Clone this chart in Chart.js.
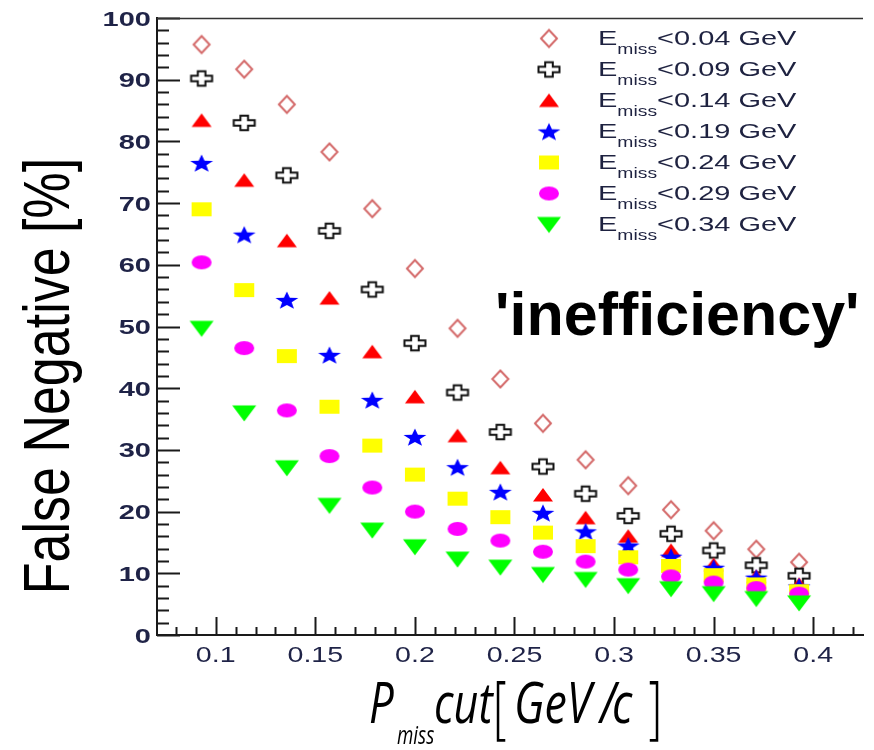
<!DOCTYPE html>
<html>
<head>
<meta charset="utf-8">
<script src="https://cdn.jsdelivr.net/npm/chart.js@4"></script>
<style>
  html, body { margin: 0; padding: 0; background: #fff; }
  #wrap { width: 874px; height: 750px; }
</style>
</head>
<body>
<div id="wrap"><canvas id="c" width="874" height="750"></canvas></div>
<script>
// P_miss cut values (GeV/c)
const pmissCut = [0.0929, 0.1143, 0.1357, 0.1571, 0.1786, 0.2, 0.2214, 0.2429, 0.2643, 0.2857, 0.3071, 0.3286, 0.35, 0.3714, 0.3929];

// False negative rate [%] for each E_miss cut
const emiss004 = [95.7, 91.7, 86.0, 78.3, 69.1, 59.4, 49.7, 41.5, 34.3, 28.4, 24.2, 20.3, 16.9, 13.9, 11.8];
const emiss009 = [90.2, 83.0, 74.5, 65.5, 56.0, 47.3, 39.3, 32.9, 27.3, 22.9, 19.3, 16.4, 13.7, 11.3, 9.6];
const emiss014 = [83.4, 73.7, 63.9, 54.6, 45.9, 38.6, 32.3, 27.1, 22.7, 19.0, 16.0, 13.7, 11.4, 9.5, 8.2];
const emiss019 = [76.5, 64.9, 54.3, 45.4, 38.1, 32.1, 27.2, 23.2, 19.8, 16.8, 14.5, 12.7, 10.9, 9.3, 7.9];
const emiss024 = [69.0, 55.9, 45.2, 37.0, 30.7, 26.0, 22.1, 19.1, 16.6, 14.4, 12.6, 11.2, 9.7, 8.2, 7.1];
const emiss029 = [60.4, 46.5, 36.4, 29.0, 23.9, 20.0, 17.2, 15.3, 13.5, 11.9, 10.6, 9.5, 8.5, 7.6, 6.7];
const emiss034 = [49.7, 36.0, 27.1, 21.0, 17.0, 14.3, 12.3, 11.0, 9.8, 9.0, 8.0, 7.5, 6.7, 5.9, 5.2];

const emissCuts = ['0.04', '0.09', '0.14', '0.19', '0.24', '0.29', '0.34'];
const seriesValues = [emiss004, emiss009, emiss014, emiss019, emiss024, emiss029, emiss034];

// Axis ticks
const xTickValues = [0.1, 0.15, 0.2, 0.25, 0.3, 0.35, 0.4];
const xTickLabels = ['0.1', '0.15', '0.2', '0.25', '0.3', '0.35', '0.4'];
const yTickValues = [0, 10, 20, 30, 40, 50, 60, 70, 80, 90, 100];
const yTickLabels = ['0', '10', '20', '30', '40', '50', '60', '70', '80', '90', '100'];

// ---- marker glyphs (slightly wider than tall) ----
function makeMarker(kind) {
  const w = 28, h = 22;
  const cv = document.createElement('canvas');
  cv.width = w; cv.height = h;
  const g = cv.getContext('2d');
  const cx = w / 2, cy = h / 2;
  g.lineJoin = 'miter';
  if (kind === 'diamond') {
    g.strokeStyle = '#d46a6a'; g.lineWidth = 2;
    g.beginPath();
    g.moveTo(cx, cy - 8.5); g.lineTo(cx + 8, cy); g.lineTo(cx, cy + 8.5); g.lineTo(cx - 8, cy); g.closePath();
    g.stroke();
  } else if (kind === 'cross') {
    const W = 10.5, H = 7.2, a = 3.8, b = 2.8;
    g.fillStyle = '#fff'; g.strokeStyle = '#111'; g.lineWidth = 2;
    g.beginPath();
    g.moveTo(cx - a, cy - H); g.lineTo(cx + a, cy - H); g.lineTo(cx + a, cy - b);
    g.lineTo(cx + W, cy - b); g.lineTo(cx + W, cy + b); g.lineTo(cx + a, cy + b);
    g.lineTo(cx + a, cy + H); g.lineTo(cx - a, cy + H); g.lineTo(cx - a, cy + b);
    g.lineTo(cx - W, cy + b); g.lineTo(cx - W, cy - b); g.lineTo(cx - a, cy - b);
    g.closePath(); g.fill(); g.stroke();
  } else if (kind === 'triUp') {
    g.fillStyle = '#ff0000';
    g.beginPath(); g.moveTo(cx, cy - 7); g.lineTo(cx + 10, cy + 6.5); g.lineTo(cx - 10, cy + 6.5); g.closePath(); g.fill();
  } else if (kind === 'star') {
    g.fillStyle = '#0000ff';
    g.beginPath();
    for (let k = 0; k < 10; k++) {
      const ang = -Math.PI / 2 + k * Math.PI / 5;
      const r = (k % 2 === 0) ? 1 : 0.42;
      const px = cx + Math.cos(ang) * r * 12;
      const py = cy + 1 + Math.sin(ang) * r * 9.5;
      if (k === 0) g.moveTo(px, py); else g.lineTo(px, py);
    }
    g.closePath(); g.fill();
  } else if (kind === 'square') {
    g.fillStyle = '#ffff00';
    g.fillRect(cx - 10, cy - 7, 20, 14);
  } else if (kind === 'circle') {
    g.fillStyle = '#ff00ff';
    g.beginPath(); g.ellipse(cx, cy, 10, 7, 0, 0, Math.PI * 2); g.fill();
  } else if (kind === 'triDown') {
    g.fillStyle = '#00ff00';
    g.beginPath(); g.moveTo(cx - 12, cy - 7.5); g.lineTo(cx + 12, cy - 7.5); g.lineTo(cx, cy + 8.5); g.closePath(); g.fill();
  }
  return cv;
}

const markerKinds = ['diamond', 'cross', 'triUp', 'star', 'square', 'circle', 'triDown'];
const markers = markerKinds.map(makeMarker);

const datasets = seriesValues.map((vals, i) => ({
  label: 'E_miss<' + emissCuts[i] + ' GeV',
  data: pmissCut.map((x, j) => ({ x: x, y: vals[j] })),
  pointStyle: markers[i],
  pointRadius: 10,
  pointHoverRadius: 10,
  showLine: false,
  order: -i
}));

function stretchedText(ctx, text, x, y, sx, align) {
  ctx.save();
  ctx.translate(x, y);
  ctx.scale(sx, 1);
  ctx.textAlign = align || 'left';
  ctx.fillText(text, 0, 0);
  ctx.restore();
}

// inward ticks, top frame line and tick labels
const axisDecor = {
  id: 'axisDecor',
  beforeDatasetsDraw(chart) {
    const ctx = chart.ctx, xs = chart.scales.x, ys = chart.scales.y, area = chart.chartArea;
    ctx.save();
    ctx.strokeStyle = '#1a1a1a';
    ctx.lineWidth = 2;
    ctx.beginPath();
    // y ticks
    for (let v = 0; v <= 100.001; v += 2) {
      const py = Math.round(ys.getPixelForValue(v)) + 0.5;
      const major = Math.abs(v % 10) < 1e-6;
      ctx.moveTo(area.left, py); ctx.lineTo(area.left + (major ? 23 : 12), py);
    }
    // x ticks
    for (let k = 8; k <= 42; k++) {
      const v = k / 100;
      const px = Math.round(xs.getPixelForValue(v)) + 0.5;
      const major = k % 5 === 0;
      ctx.moveTo(px, area.bottom); ctx.lineTo(px, area.bottom - (major ? 18 : 8));
    }
    ctx.stroke();
    // top frame line
    ctx.lineWidth = 1.5;
    ctx.strokeStyle = '#333';
    ctx.beginPath();
    ctx.moveTo(area.left, area.top + 0.5); ctx.lineTo(area.right, area.top + 0.5);
    ctx.stroke();
    ctx.restore();
  },
  afterDraw(chart) {
    const ctx = chart.ctx, xs = chart.scales.x, ys = chart.scales.y;
    ctx.save();
    ctx.fillStyle = '#1f2347';
    ctx.textBaseline = 'middle';
    ctx.font = 'bold 20px "Liberation Sans", Arial, sans-serif';
    yTickValues.forEach((v, i) => {
      stretchedText(ctx, yTickLabels[i], 151, ys.getPixelForValue(v) + 2, 1.45, 'right');
    });
    ctx.font = '22px "Liberation Sans", Arial, sans-serif';
    xTickValues.forEach((v, i) => {
      stretchedText(ctx, xTickLabels[i], xs.getPixelForValue(v), 656, 1.3, 'center');
    });

    // legend
    const lx = 549, ly0 = 38.5, lstep = 31;
    ctx.textBaseline = 'alphabetic';
    ctx.fillStyle = '#1e2240';
    const sx = 1.38;
    emissCuts.forEach((cut, i) => {
      const y = ly0 + i * lstep;
      const m = markers[i];
      ctx.drawImage(m, lx - m.width / 2, y - m.height / 2);
      let x = 598;
      ctx.font = '21px "Liberation Sans", Arial, sans-serif';
      stretchedText(ctx, 'E', x, y + 6, sx, 'left');
      x += ctx.measureText('E').width * sx;
      ctx.font = '14px "Liberation Sans", Arial, sans-serif';
      stretchedText(ctx, 'miss', x, y + 15, sx, 'left');
      x += ctx.measureText('miss').width * sx;
      ctx.font = '21px "Liberation Sans", Arial, sans-serif';
      stretchedText(ctx, '<' + cut + ' GeV', x, y + 6, sx, 'left');
    });

    // y axis title
    ctx.fillStyle = '#000';
    ctx.font = '52px "Liberation Sans", Arial, sans-serif';
    ctx.save();
    ctx.translate(69, 376);
    ctx.scale(1.24, 1);
    ctx.rotate(-Math.PI / 2);
    ctx.textAlign = 'center';
    ctx.fillText('False Negative [%]', 0, 0);
    ctx.restore();

    // annotation
    ctx.font = 'bold 61px "Liberation Sans", Arial, sans-serif';
    ctx.textAlign = 'left';
    ctx.fillText("'inefficiency'", 495, 335);

    // x axis title
    const tf = 'italic 56px "Open Sans", sans-serif';
    ctx.font = tf;
    stretchedText(ctx, 'P', 369, 723, 0.78, 'left');
    ctx.font = 'italic 25px "Open Sans", sans-serif';
    stretchedText(ctx, 'miss', 397, 744, 0.75, 'left');
    ctx.font = tf;
    stretchedText(ctx, 'cut', 434, 723, 0.77, 'left');
    ctx.font = '200 68px "DejaVu Sans", sans-serif';
    stretchedText(ctx, '[', 491, 733, 0.75, 'left');
    ctx.font = tf;
    stretchedText(ctx, 'GeV', 514, 723, 0.8, 'left');
    stretchedText(ctx, '/', 600, 723, 0.8, 'left');
    stretchedText(ctx, 'c', 612, 723, 0.8, 'left');
    ctx.font = '200 68px "DejaVu Sans", sans-serif';
    stretchedText(ctx, ']', 644, 733, 0.75, 'left');
    ctx.restore();
  }
};

new Chart(document.getElementById('c'), {
  type: 'scatter',
  data: { datasets: datasets },
  options: {
    responsive: false,
    animation: false,
    events: [],
    layout: { padding: { top: 18, right: 1, left: 0, bottom: 0 } },
    plugins: { legend: { display: false }, tooltip: { enabled: false } },
    scales: {
      x: {
        type: 'linear',
        min: 0.0705,
        max: 0.425,
        grid: { display: false, drawTicks: false },
        border: { display: true, color: '#1a1a1a', width: 2 },
        ticks: { display: false },
        afterBuildTicks(scale) { scale.ticks = xTickValues.map(v => ({ value: v })); },
        afterFit(scale) { scale.height = 115; }
      },
      y: {
        type: 'linear',
        min: 0,
        max: 100,
        grid: { display: false, drawTicks: false },
        border: { display: true, color: '#1a1a1a', width: 2 },
        ticks: { display: false },
        afterBuildTicks(scale) { scale.ticks = yTickValues.map(v => ({ value: v })); },
        afterFit(scale) { scale.width = 157; }
      }
    }
  },
  plugins: [axisDecor]
});
</script>
</body>
</html>
